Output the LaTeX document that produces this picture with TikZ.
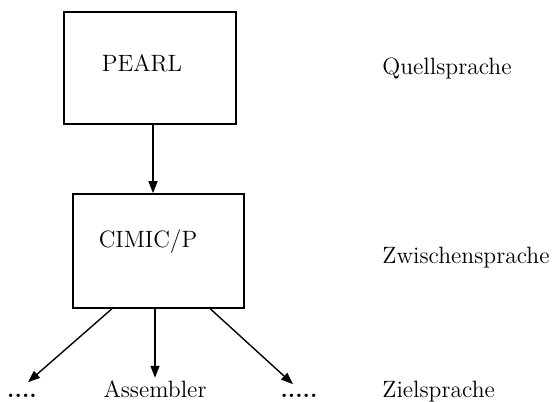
\documentclass[tikz,border=0pt]{standalone}
\usepackage{tikz}
\usetikzlibrary{arrows.meta,calc}
\tikzset{
	kasten/.style={draw, line width=0.8pt, minimum width=86pt, minimum height=56pt, inner sep=0pt},
	pfeil/.style={line width=0.7pt, -{Triangle[length=6pt,width=4.5pt]}},
	sprache/.style={anchor=base west, inner sep=0pt}
}

\begin{document}
\begin{tikzpicture}[x=0.5pt, y=-0.5pt, font=\fontsize{11.8}{14}\selectfont]
			%%%%% START %%%%%
			\useasboundingbox (0, 0) rectangle (556, 401);
			
			\node[kasten] (pearl) at (150, 68) {};
			\node[inner sep=0pt] (pearltxt) at (142, 63) {PEARL};
			
			\node[kasten, minimum width=85.5pt, minimum height=57pt] (cimic) at (158.5, 251) {};
			\node[inner sep=0pt] (cimictxt) at (148, 242) {CIMIC/P};
			
			\node[inner sep=1pt, anchor=base] (links) at (22, 397) {\textbf{....}};
			\node[inner sep=1pt, anchor=base] (asm) at (155, 397) {Assembler};
			\node[inner sep=1pt, anchor=base] (rechts) at (299, 397) {\textbf{.....}};
			
			\node[sprache] (quelle) at (382, 75) {Quellsprache};
			\node[sprache] (zwischen) at (382, 263) {Zwischensprache};
			\node[sprache] (ziel) at (382, 397) {Zielsprache};
			
			\draw[pfeil] ($(pearl.south)+(3, 0)$) -- ($(pearl.south |- cimic.north)+(3, 0)$);
			
			\draw[pfeil] ($(cimic.south west)!0.23!(cimic.south east)$) -- ($(links.north)+(6, -9)$);
			\draw[pfeil] (cimic.south -| asm.north) -- (asm.north);
			\draw[pfeil] ($(cimic.south west)!0.80!(cimic.south east)$) -- ($(rechts.north)+(-6, -7)$);
			
			%%%%% END %%%%%
\end{tikzpicture}
\end{document}
